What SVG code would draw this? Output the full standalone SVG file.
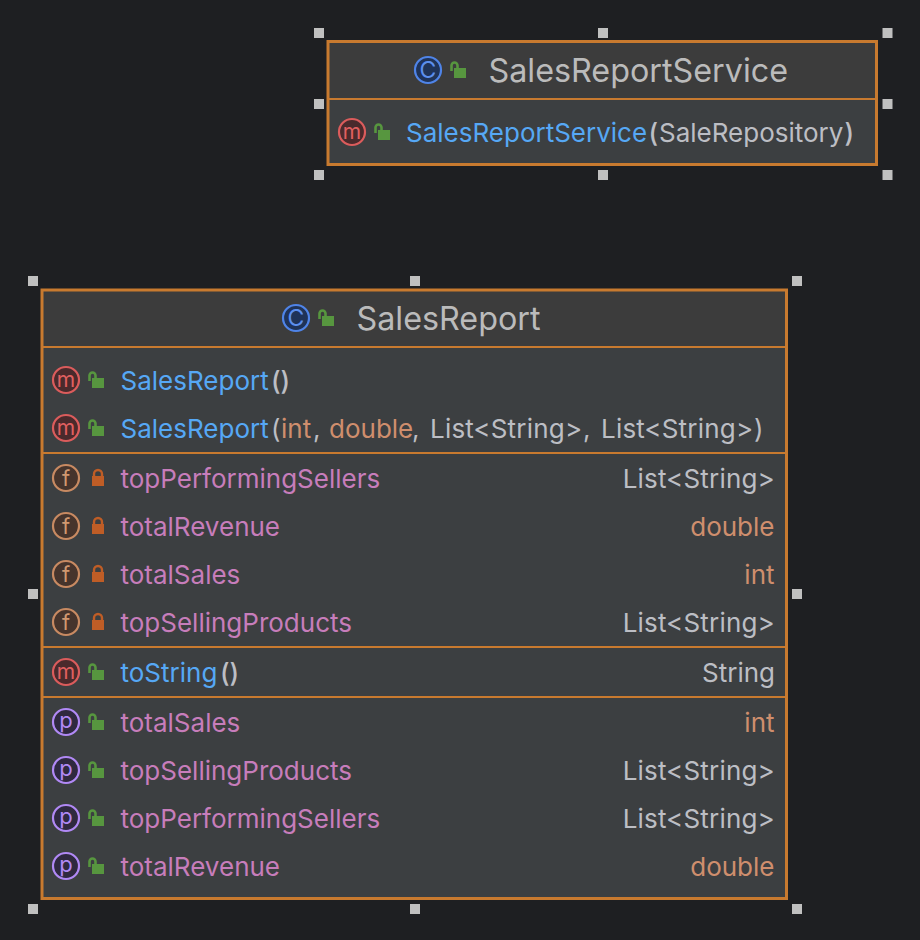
<svg xmlns="http://www.w3.org/2000/svg" width="920" height="940" viewBox="0 0 920 940">
<style>
text{font-family:"Inter","Liberation Sans",sans-serif;font-size:26px}
.t{font-size:32.3px;fill:#bbbbbb}
.b{fill:#56a8f5}.g{fill:#bcbec4}.o{fill:#cf8e6d}.p{fill:#c77dbb}
.l{letter-spacing:.2px}
.par{font-weight:500}
.e{text-anchor:end}
.box{stroke:#c87a2f;stroke-width:3}
.div{stroke:#c87a2f;stroke-width:2;fill:none}
.hd{fill:#3c3c3c}.bd{fill:#3c3f41}
.h{fill:#c0c0c0}
.il{font-size:22px;text-anchor:middle}
.ic{font-size:23px}
.im{font-size:21px}
</style>
<defs>
<g id="pub"><rect x="-6" y="-4" width="12" height="10" fill="#57963f"/><path d="M-8.5-1V-6.5A3 3 0 0 1-2.5-6.5V-4" fill="none" stroke="#57963f" stroke-width="2.6"/></g>
<g id="pri"><rect x="-6" y="-2" width="12" height="10" fill="#bf5d26"/><path d="M-4-2V-4A4 4 0 0 1 4-4V-2" fill="none" stroke="#bf5d26" stroke-width="2.4"/></g>
<circle id="cc" r="13" fill="#1f3358" stroke="#4f84e8" stroke-width="2.2"/>
<circle id="cm" r="13" fill="#4a2a2c" stroke="#db5c5c" stroke-width="2.2"/>
<circle id="cf" r="13" fill="#46342c" stroke="#c88a62" stroke-width="2.2"/>
<circle id="cp" r="13" fill="#2f2940" stroke="#b189f5" stroke-width="2.2"/>
<rect id="hnd" x="-5" y="-5" width="10" height="10" class="h"/>
</defs>
<rect width="920" height="940" fill="#1e1f22"/>
<g id="connectors"/>
<g id="SalesReportService">
<rect x="328" y="41.5" width="548.5" height="123" class="bd"/>
<rect x="328" y="41.5" width="548.5" height="57.5" class="hd"/>
<rect x="328" y="41.5" width="548.5" height="123" class="box" fill="none"/>
<path d="M328 99H876" class="div"/>
<use href="#cc" x="428" y="70"/><text x="428" y="78" class="il ic" fill="#5c8fee">C</text>
<use href="#pub" x="460" y="72"/>
<text x="488.5" y="82" class="t">SalesReportService</text>
<use href="#cm" x="352" y="132"/><text x="352" y="139" class="il im" fill="#e06060">m</text>
<use href="#pub" x="384" y="134"/>
<text x="406" y="142"><tspan class="b">SalesReportService</tspan><tspan x="648.5" class="g par">(</tspan><tspan x="659" class="g">SaleRepository</tspan><tspan x="844.5" class="g par">)</tspan></text>
<use href="#hnd" x="319" y="33"/><use href="#hnd" x="603" y="33"/><use href="#hnd" x="887.5" y="33"/>
<use href="#hnd" x="319" y="104"/><use href="#hnd" x="887.5" y="104"/>
<use href="#hnd" x="319" y="175"/><use href="#hnd" x="603" y="175"/><use href="#hnd" x="887.5" y="175"/>
</g>
<g id="SalesReport">
<rect x="42" y="290" width="744.5" height="608.5" class="bd"/>
<rect x="42" y="290" width="744.5" height="57" class="hd"/>
<rect x="42" y="290" width="744.5" height="608.5" class="box" fill="none"/>
<path d="M42 347H786M42 453H786M42 647H786M42 697H786" class="div"/>
<use href="#cc" x="296" y="318"/><text x="296" y="326" class="il ic" fill="#5c8fee">C</text>
<use href="#pub" x="328" y="320"/>
<text x="356.5" y="330" class="t">SalesReport</text>

<use href="#cm" x="66" y="380"/><text x="66" y="387" class="il im" fill="#e06060">m</text><use href="#pub" x="98" y="382"/>
<text x="120.5" y="390"><tspan class="b">SalesReport</tspan><tspan x="271" class="g par">()</tspan></text>
<use href="#cm" x="66" y="428"/><text x="66" y="435" class="il im" fill="#e06060">m</text><use href="#pub" x="98" y="430"/>
<text x="120.5" y="438"><tspan class="b">SalesReport</tspan><tspan x="271" class="g">(</tspan><tspan x="281" class="o">int</tspan><tspan x="313" class="g">,</tspan><tspan x="329" class="o">double</tspan><tspan x="412" class="g">,</tspan><tspan x="430" class="g l">List&lt;String&gt;</tspan><tspan x="583" class="g">,</tspan><tspan x="601" class="g l">List&lt;String&gt;</tspan><tspan x="754" class="g">)</tspan></text>

<use href="#cf" x="66" y="478"/><text x="66" y="486" class="il" fill="#d09870">f</text><use href="#pri" x="98" y="478"/>
<text x="120.5" y="488" class="p">topPerformingSellers</text><text x="775" y="488" class="g e l">List&lt;String&gt;</text>
<use href="#cf" x="66" y="526"/><text x="66" y="534" class="il" fill="#d09870">f</text><use href="#pri" x="98" y="526"/>
<text x="120.5" y="536" class="p">totalRevenue</text><text x="774.5" y="536" class="o e">double</text>
<use href="#cf" x="66" y="574"/><text x="66" y="582" class="il" fill="#d09870">f</text><use href="#pri" x="98" y="574"/>
<text x="120.5" y="584" class="p">totalSales</text><text x="774.5" y="584" class="o e">int</text>
<use href="#cf" x="66" y="622"/><text x="66" y="630" class="il" fill="#d09870">f</text><use href="#pri" x="98" y="622"/>
<text x="120.5" y="632" class="p">topSellingProducts</text><text x="775" y="632" class="g e l">List&lt;String&gt;</text>

<use href="#cm" x="66" y="672"/><text x="66" y="679" class="il im" fill="#e06060">m</text><use href="#pub" x="98" y="674"/>
<text x="120.5" y="682"><tspan class="b">toString</tspan><tspan x="220" class="g par">()</tspan></text><text x="775" y="682" class="g e">String</text>

<use href="#cp" x="66" y="722"/><text x="66" y="728" class="il" fill="#b189f5">p</text><use href="#pub" x="98" y="724"/>
<text x="120.5" y="732" class="p">totalSales</text><text x="774.5" y="732" class="o e">int</text>
<use href="#cp" x="66" y="770"/><text x="66" y="776" class="il" fill="#b189f5">p</text><use href="#pub" x="98" y="772"/>
<text x="120.5" y="780" class="p">topSellingProducts</text><text x="775" y="780" class="g e l">List&lt;String&gt;</text>
<use href="#cp" x="66" y="818"/><text x="66" y="824" class="il" fill="#b189f5">p</text><use href="#pub" x="98" y="820"/>
<text x="120.5" y="828" class="p">topPerformingSellers</text><text x="775" y="828" class="g e l">List&lt;String&gt;</text>
<use href="#cp" x="66" y="866"/><text x="66" y="872" class="il" fill="#b189f5">p</text><use href="#pub" x="98" y="868"/>
<text x="120.5" y="876" class="p">totalRevenue</text><text x="774.5" y="876" class="o e">double</text>

<use href="#hnd" x="33" y="281"/><use href="#hnd" x="415" y="281"/><use href="#hnd" x="797" y="281"/>
<use href="#hnd" x="33" y="594"/><use href="#hnd" x="797" y="594"/>
<use href="#hnd" x="33" y="909"/><use href="#hnd" x="415" y="909"/><use href="#hnd" x="797" y="909"/>
</g>
</svg>
